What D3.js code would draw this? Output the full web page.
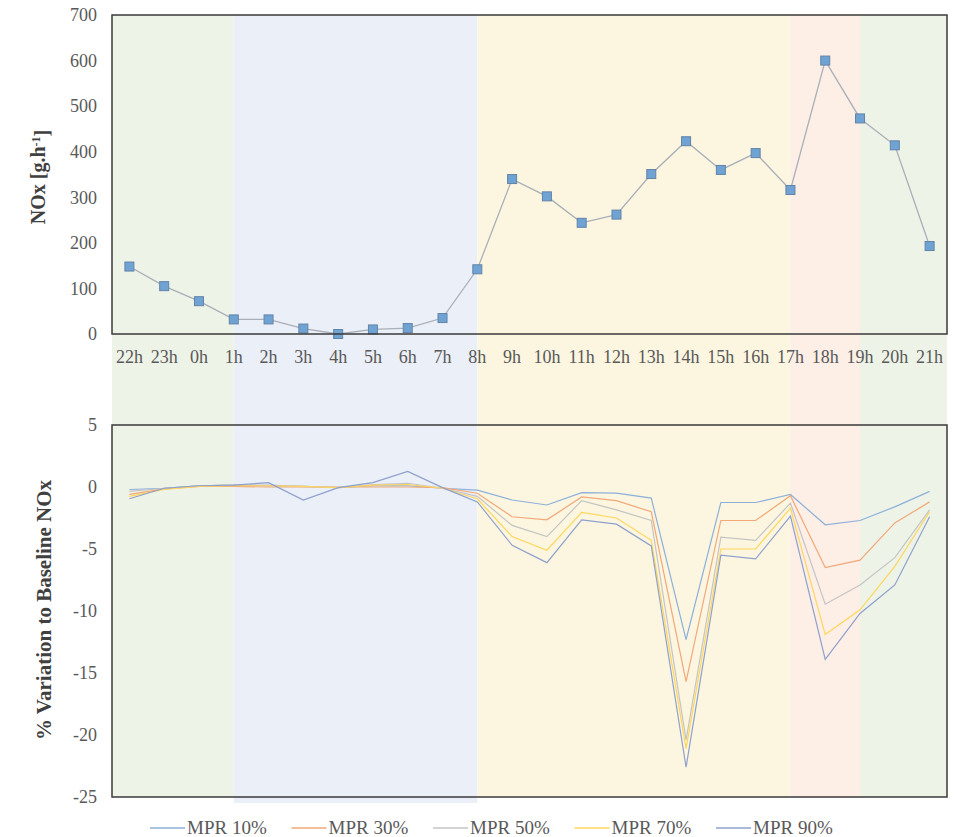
<!DOCTYPE html>
<html>
<head>
<meta charset="utf-8">
<script src="https://cdn.jsdelivr.net/npm/d3@7"></script>
<style>
  body { margin: 0; background: #fff; }
  text { font-family: "Liberation Serif", "Times New Roman", serif; }
</style>
</head>
<body>
<div id="chart"></div>
<script>
// hours of the day, from 22h to 21h
var hours = ["22h","23h","0h","1h","2h","3h","4h","5h","6h","7h","8h","9h","10h","11h","12h","13h","14h","15h","16h","17h","18h","19h","20h","21h"];

// baseline NOx emission [g/h]
var noxBaseline = [148,105,72,32,32,12,0,10,13,35,142,340,302,244,262,351,423,360,397,316,600,473,414,193];

// % variation to baseline for each MPR scenario
var mpr10 = [-0.2,-0.1,0.1,0.15,0.1,0.05,-0.05,0.1,0.1,-0.1,-0.25,-1.05,-1.45,-0.45,-0.5,-0.9,-12.3,-1.25,-1.25,-0.6,-3.05,-2.7,-1.6,-0.35];
var mpr30 = [-0.6,-0.15,0.05,0.05,0,0,0,0,0,-0.05,-0.5,-2.4,-2.65,-0.8,-1.1,-2.0,-15.7,-2.7,-2.7,-0.7,-6.5,-5.9,-2.9,-1.2];
var mpr50 = [-0.35,-0.1,0.1,0.15,0.15,0.05,-0.05,0.2,0.3,-0.1,-0.75,-3.1,-4.0,-1.1,-1.85,-2.7,-20.4,-4.05,-4.3,-1.3,-9.45,-7.9,-5.7,-1.85];
var mpr70 = [-0.75,-0.2,0.05,0.1,0.1,0.05,-0.05,0.15,0.2,-0.1,-0.95,-4.0,-5.1,-2.05,-2.5,-4.3,-21.1,-5.0,-5.0,-1.7,-11.9,-9.9,-6.4,-2.0];
var mpr90 = [-0.95,-0.1,0.1,0.15,0.35,-1.05,-0.05,0.35,1.25,-0.05,-1.2,-4.7,-6.1,-2.65,-3.0,-4.75,-22.6,-5.5,-5.8,-2.35,-13.9,-10.2,-7.9,-2.4];

var seriesNames = ["MPR 10%","MPR 30%","MPR 50%","MPR 70%","MPR 90%"];
var seriesValues = [mpr10, mpr30, mpr50, mpr70, mpr90];
var seriesColors = ["#8db0da","#f2a878","#c4c4c4","#ffd65c","#8ea0cc"];

// day periods (shaded backgrounds)
var periodStart = ["22h","1h","8h","17h","19h"];
var periodEnd   = ["1h","8h","17h","19h","21h"];
var periodColors = ["#eef3e7","#ebeff7","#fcf6e0","#fdeee6","#eef3e7"];

var width = 954, height = 837;
var left = 112, right = 947;
var topY0 = 15, topY1 = 334;
var botY0 = 425, botY1 = 797;

var svg = d3.select("#chart").append("svg")
    .attr("width", width)
    .attr("height", height);

var x = d3.scaleBand().domain(hours).range([left, right]).paddingInner(0).paddingOuter(0);
var cx = function(h) { return x(h) + x.bandwidth() / 2; };

var yTop = d3.scaleLinear().domain([0, 700]).range([topY1, topY0]);
var yBot = d3.scaleLinear().domain([-25, 5]).range([botY1, botY0]);

// shaded periods, behind both charts
var periods = periodStart.map(function(s, i) {
    return { start: s, end: periodEnd[i], color: periodColors[i] };
});
svg.append("g").selectAll("rect")
    .data(periods)
    .enter()
    .append("rect")
    .attr("x", function(d, i) { return i === 0 ? left : cx(d.start); })
    .attr("width", function(d, i) {
        var x0 = i === 0 ? left : cx(d.start);
        var x1 = i === periods.length - 1 ? right : cx(d.end);
        return x1 - x0;
    })
    .attr("y", topY0)
    .attr("height", function(d, i) { return botY1 - topY0 + (i === 1 ? 6 : 0); })
    .style("fill", function(d) { return d.color; });

function styleTicks(sel) {
    sel.select(".domain").remove();
    sel.selectAll("text")
        .style("font-size", "18px")
        .style("fill", "#595959")
        .style("font-family", "Liberation Serif");
}

// ---------- top chart ----------
var gTop = svg.append("g");

gTop.append("g")
    .attr("transform", "translate(" + left + ",0)")
    .call(d3.axisLeft(yTop).tickValues(d3.range(0, 701, 100)).tickSize(0).tickPadding(15))
    .call(styleTicks);

gTop.append("g")
    .attr("transform", "translate(0," + topY1 + ")")
    .call(d3.axisBottom(x).tickSize(0).tickPadding(16))
    .call(styleTicks);

var topLabel = gTop.append("text")
    .attr("transform", "translate(45," + 177 + ") rotate(-90)")
    .attr("text-anchor", "middle")
    .style("font-size", "20px")
    .style("font-weight", "bold")
    .style("fill", "#404040");
topLabel.append("tspan").text("NOx [g.h");
topLabel.append("tspan").attr("dy", "-0.45em").style("font-size", "12px").text("-1");
topLabel.append("tspan").attr("dy", "0.45em").text("]");

var lineTop = d3.line()
    .x(function(d, i) { return cx(hours[i]); })
    .y(function(d) { return yTop(d); });

gTop.append("path")
    .datum(noxBaseline)
    .attr("d", lineTop)
    .style("fill", "none")
    .style("stroke", "#a9afb8")
    .style("stroke-width", 1.3);

gTop.selectAll(".marker")
    .data(noxBaseline)
    .enter()
    .append("rect")
    .attr("class", "marker")
    .attr("x", function(d, i) { return cx(hours[i]) - 4.5; })
    .attr("y", function(d) { return yTop(d) - 4.5; })
    .attr("width", 9)
    .attr("height", 9)
    .style("fill", "#6fa3d3")
    .style("stroke", "#6483a8")
    .style("stroke-width", 1);

gTop.append("rect")
    .attr("x", left).attr("y", topY0)
    .attr("width", right - left).attr("height", topY1 - topY0)
    .style("fill", "none")
    .style("stroke", "#3a3a3a")
    .style("stroke-width", 1.5);

// ---------- bottom chart ----------
var gBot = svg.append("g");

gBot.append("g")
    .attr("transform", "translate(" + left + ",0)")
    .call(d3.axisLeft(yBot).tickValues(d3.range(-25, 6, 5)).tickSize(0).tickPadding(15)
        .tickFormat(function(d) { return String(d).replace("\u2212", "-"); }))
    .call(styleTicks);

gBot.append("text")
    .attr("transform", "translate(51," + 610 + ") rotate(-90)")
    .attr("text-anchor", "middle")
    .style("font-size", "21px")
    .style("font-weight", "bold")
    .style("fill", "#404040")
    .text("% Variation to Baseline NOx");

var lineBot = d3.line()
    .x(function(d, i) { return cx(hours[i]); })
    .y(function(d) { return yBot(d); });

gBot.selectAll(".mpr")
    .data(seriesValues)
    .enter()
    .append("path")
    .attr("class", "mpr")
    .attr("d", lineBot)
    .style("fill", "none")
    .style("stroke", function(d, i) { return seriesColors[i]; })
    .style("stroke-width", 1.2);

gBot.append("rect")
    .attr("x", left).attr("y", botY0)
    .attr("width", right - left).attr("height", botY1 - botY0)
    .style("fill", "none")
    .style("stroke", "#3a3a3a")
    .style("stroke-width", 1.5);

// ---------- legend ----------
var legend = svg.append("g").attr("transform", "translate(150,828)");
var item = legend.selectAll(".item")
    .data(seriesNames)
    .enter()
    .append("g")
    .attr("class", "item")
    .attr("transform", function(d, i) { return "translate(" + (i * 141.5) + ",0)"; });
item.append("line")
    .attr("x1", 0).attr("x2", 35)
    .attr("y1", 0).attr("y2", 0)
    .style("stroke", function(d, i) { return seriesColors[i]; })
    .style("stroke-width", 1.3);
item.append("text")
    .attr("x", 37)
    .attr("y", 6)
    .style("font-size", "19px")
    .style("fill", "#595959")
    .text(function(d) { return d; });
</script>
</body>
</html>
